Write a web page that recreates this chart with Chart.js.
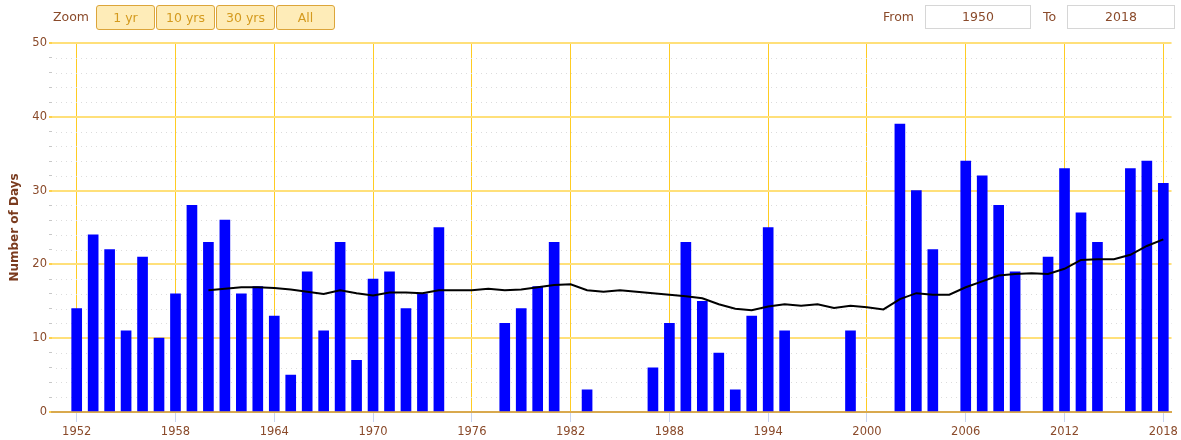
<!DOCTYPE html>
<html>
<head>
<meta charset="utf-8">
<script src="https://cdn.jsdelivr.net/npm/chart.js@4"></script>
<style>
  body { margin: 0; background: #fff; font-family: "DejaVu Sans", sans-serif; }
  #wrap { position: relative; width: 1181px; height: 440px; overflow: hidden; }
  #chart { position: absolute; left: 0; top: 0; }
  .lbl { position: absolute; top: 9px; font-size: 12.5px; color: #8a4a2a; }
  .btn {
    position: absolute; top: 5px; height: 23px; width: 57px;
    background: #feecb8; border: 1px solid #dca53a; border-radius: 3px;
    color: #d49a1e; font-size: 12.5px; text-align: center; line-height: 23px;
  }
  .box {
    position: absolute; top: 5px; height: 22px;
    border: 1px solid #d6d6d6; background: #fff;
    color: #8a4a2a; font-size: 12.5px; text-align: center; line-height: 22px;
  }
</style>
</head>
<body>
<div id="wrap">
  <canvas id="chart" width="1181" height="440"></canvas>
  <div class="lbl" style="left:53px">Zoom</div>
  <div class="btn" style="left:96px">1 yr</div>
  <div class="btn" style="left:156px">10 yrs</div>
  <div class="btn" style="left:216px">30 yrs</div>
  <div class="btn" style="left:276px">All</div>
  <div class="lbl" style="left:883px">From</div>
  <div class="box" style="left:925px;width:104px">1950</div>
  <div class="lbl" style="left:1043px">To</div>
  <div class="box" style="left:1067px;width:106px">2018</div>
</div>
<script>
// yearly count of days (years with no bar are left out)
const barYears = [1952, 1953, 1954, 1955, 1956, 1957, 1958, 1959, 1960, 1961, 1962, 1963, 1964, 1965,
    1966, 1967, 1968, 1969, 1970, 1971, 1972, 1973, 1974, 1978, 1979, 1980, 1981, 1983,
    1987, 1988, 1989, 1990, 1991, 1992, 1993, 1994, 1995, 1999, 2002, 2003, 2004,
    2006, 2007, 2008, 2009, 2011, 2012, 2013, 2014, 2016, 2017, 2018];
const barDays = [14, 24, 22, 11, 21, 10, 16, 28, 23, 26, 16, 17, 13, 5,
    19, 11, 23, 7, 18, 19, 14, 16, 25, 12, 14, 17, 23, 3,
    6, 12, 23, 15, 8, 3, 13, 25, 11, 11, 39, 30, 22,
    34, 32, 28, 19, 21, 33, 27, 23, 33, 34, 31];

// running average line
const avgYears = [];
for (let y = 1960; y <= 2018; y++) avgYears.push(y);
const avgDays = [16.5, 16.7, 16.9, 16.9, 16.8, 16.6, 16.3, 16.0, 16.5, 16.1,
    15.8, 16.2, 16.2, 16.1, 16.5, 16.5, 16.5, 16.7, 16.5, 16.6,
    16.9, 17.2, 17.3, 16.5, 16.3, 16.5, 16.3, 16.1, 15.9, 15.7,
    15.4, 14.6, 14.0, 13.8, 14.3, 14.6, 14.4, 14.6, 14.1, 14.4,
    14.2, 13.9, 15.3, 16.1, 15.9, 15.9, 16.9, 17.7, 18.5, 18.7,
    18.8, 18.7, 19.4, 20.6, 20.7, 20.7, 21.3, 22.5, 23.4];

const xTickYears = [1952, 1958, 1964, 1970, 1976, 1982, 1988, 1994, 2000, 2006, 2012, 2018];

const brown = '#8a4a2a';

// dotted minor lines between the major y grid lines
const minorGrid = {
    id: 'minorGrid',
    beforeDatasetsDraw(chart) {
        const { ctx, chartArea, scales } = chart;
        ctx.save();
        ctx.strokeStyle = '#dcdcdc';
        ctx.lineWidth = 1;
        ctx.setLineDash([1, 4]);
        for (let v = 2; v < 50; v += 2) {
            if (v % 10 === 0) continue;
            const py = Math.round(scales.y.getPixelForValue(v)) + 0.5;
            ctx.beginPath();
            ctx.moveTo(chartArea.left + 4, py);
            ctx.lineTo(chartArea.right, py);
            ctx.stroke();
        }
        ctx.restore();
    }
};

new Chart(document.getElementById('chart'), {
    data: {
        datasets: [
            {
                type: 'line',
                data: avgYears.map((y, i) => ({ x: y, y: avgDays[i] })),
                borderColor: '#000',
                borderWidth: 2,
                pointRadius: 0,
                tension: 0,
                order: 0
            },
            {
                type: 'bar',
                data: barYears.map((y, i) => ({ x: y, y: barDays[i] })),
                backgroundColor: '#0000ff',
                borderWidth: 0,
                barThickness: 10,
                order: 1
            }
        ]
    },
    options: {
        responsive: false,
        animation: false,
        layout: { padding: { top: 43, right: 8, left: 0, bottom: 0 } },
        plugins: { legend: { display: false }, tooltip: { enabled: false } },
        scales: {
            x: {
                type: 'linear',
                min: 1950.5,
                max: 2018.5,
                offset: false,
                afterBuildTicks: (scale) => { scale.ticks = xTickYears.map(v => ({ value: v })); },
                afterFit: (scale) => { scale.height = 28; },
                ticks: {
                    color: brown,
                    font: { family: 'DejaVu Sans', size: 11.5 },
                    padding: 3,
                    maxRotation: 0,
                    autoSkip: false,
                    callback: (v) => String(v)
                },
                grid: { offset: false, color: '#ffcc22', lineWidth: 1, tickColor: '#c8d4f0', tickLength: 10 },
                border: { color: '#d9a94e', width: 2 }
            },
            y: {
                min: 0,
                max: 50,
                afterFit: (scale) => { scale.width = 52; },
                ticks: {
                    stepSize: 2,
                    autoSkip: false,
                    color: brown,
                    padding: 2,
                    font: { family: 'DejaVu Sans', size: 11.5 },
                    callback: (v) => (v % 10 === 0 ? v : '')
                },
                grid: {
                    color: (c) => (c.tick && c.tick.value % 10 === 0 ? '#ffe07a' : 'rgba(0,0,0,0)'),
                    lineWidth: (c) => (c.tick && c.tick.value % 10 === 0 ? 2 : 1),
                    tickColor: (c) => (c.tick && c.tick.value % 10 === 0 ? '#ffd24d' : '#c8c8c8'),
                    tickLength: 3
                },
                border: { display: false },
                title: {
                    display: true,
                    text: 'Number of Days',
                    color: '#7a3b1e',
                    font: { family: 'DejaVu Sans', size: 12, weight: 'bold' },
                    padding: { top: 8, bottom: 0 }
                }
            }
        }
    },
    plugins: [minorGrid]
});
</script>
</body>
</html>
